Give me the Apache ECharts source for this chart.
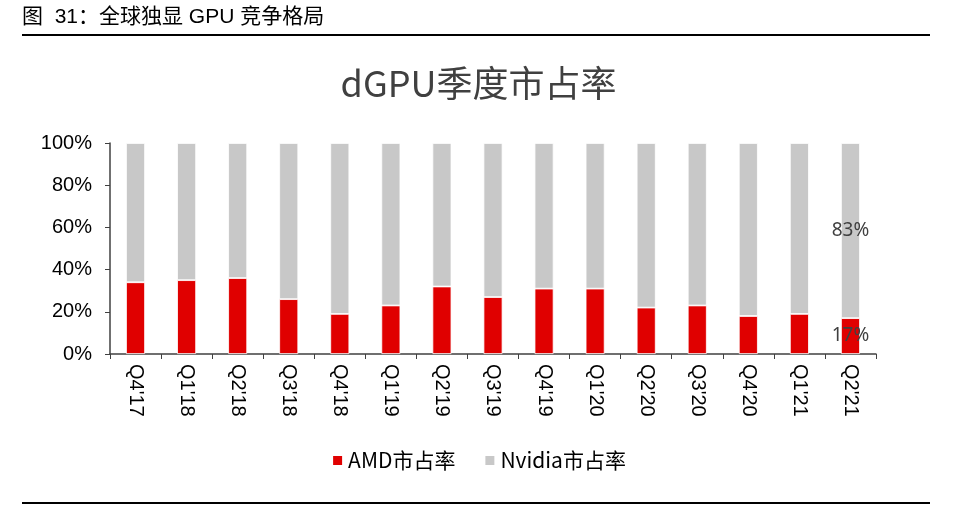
<!DOCTYPE html>
<html>
<head>
<meta charset="utf-8">
<script src="https://cdn.jsdelivr.net/npm/echarts@6/dist/echarts.min.js"></script>
<style>
  html, body { margin: 0; padding: 0; background: #fff; }
  #chart { width: 957px; height: 506px; }
</style>
</head>
<body>
<div id="chart"></div>
<script>
const quarters = ["Q4'17", "Q1'18", "Q2'18", "Q3'18", "Q4'18", "Q1'19", "Q2'19", "Q3'19",
  "Q4'19", "Q1'20", "Q2'20", "Q3'20", "Q4'20", "Q1'21", "Q2'21"];
const amdShare = [34, 35, 36, 26, 19, 23, 32, 27, 31, 31, 22, 23, 18, 19, 17];
const nvidiaShare = [66, 65, 64, 74, 81, 77, 68, 73, 69, 69, 78, 77, 82, 81, 83];

const chart = echarts.init(document.getElementById('chart'));
const last = quarters.length - 1;
const labelStyle = { show: true, position: 'inside', color: '#404040', fontSize: 19,
  fontFamily: 'Noto Sans', formatter: '{c}%' };

// only the last quarter carries a value label
const withLastLabel = (arr) => arr.map((v, i) => i === last ? { value: v, label: labelStyle } : v);

chart.setOption({
  animation: false,
  graphic: [
    { type: 'text', left: 22, top: 7, style: { text: '图  31：全球独显 GPU 竞争格局', fontSize: 21,
      fontFamily: 'Liberation Sans, Noto Sans CJK SC', fill: '#000' } },
    { type: 'rect', shape: { x: 22, y: 34, width: 908, height: 2 }, style: { fill: '#000' } },
    { type: 'rect', shape: { x: 22, y: 502, width: 908, height: 2 }, style: { fill: '#000' } }
  ],
  title: {
    text: 'dGPU季度市占率', left: 'center', top: 60,
    textStyle: { fontSize: 36, fontWeight: 'normal', color: '#404040', fontFamily: 'Noto Sans CJK SC' }
  },
  legend: {
    bottom: 30, left: 'center', itemWidth: 11, itemHeight: 11, itemGap: 28,
    icon: 'rect',
    textStyle: { fontSize: 21, color: '#000', fontFamily: 'Noto Sans CJK SC' },
    data: ['AMD市占率', 'Nvidia市占率']
  },
  grid: { left: 110, right: 81, top: 143, bottom: 152 },
  xAxis: {
    type: 'category', data: quarters,
    axisLine: { lineStyle: { color: '#404040', width: 1.5 } },
    axisTick: { show: true, length: 5, lineStyle: { color: '#404040' } },
    axisLabel: { rotate: -90, fontSize: 20, color: '#000', fontFamily: 'Liberation Sans', margin: 10 }
  },
  yAxis: {
    type: 'value', min: 0, max: 100, interval: 20,
    axisLine: { show: true, lineStyle: { color: '#404040', width: 1.5 } },
    axisTick: { show: true, length: 5, lineStyle: { color: '#404040' } },
    splitLine: { show: false },
    axisLabel: { formatter: '{value}%', fontSize: 20, color: '#000', fontFamily: 'Liberation Sans', margin: 18 }
  },
  series: [
    { name: 'AMD市占率', type: 'bar', stack: 'share', barWidth: 19,
      itemStyle: { color: '#E00000', borderColor: '#fff', borderWidth: 0.8 },
      data: withLastLabel(amdShare) },
    { name: 'Nvidia市占率', type: 'bar', stack: 'share', barWidth: 19,
      itemStyle: { color: '#C8C8C8', borderColor: '#fff', borderWidth: 0.8 },
      data: withLastLabel(nvidiaShare) }
  ]
});
</script>
</body>
</html>
